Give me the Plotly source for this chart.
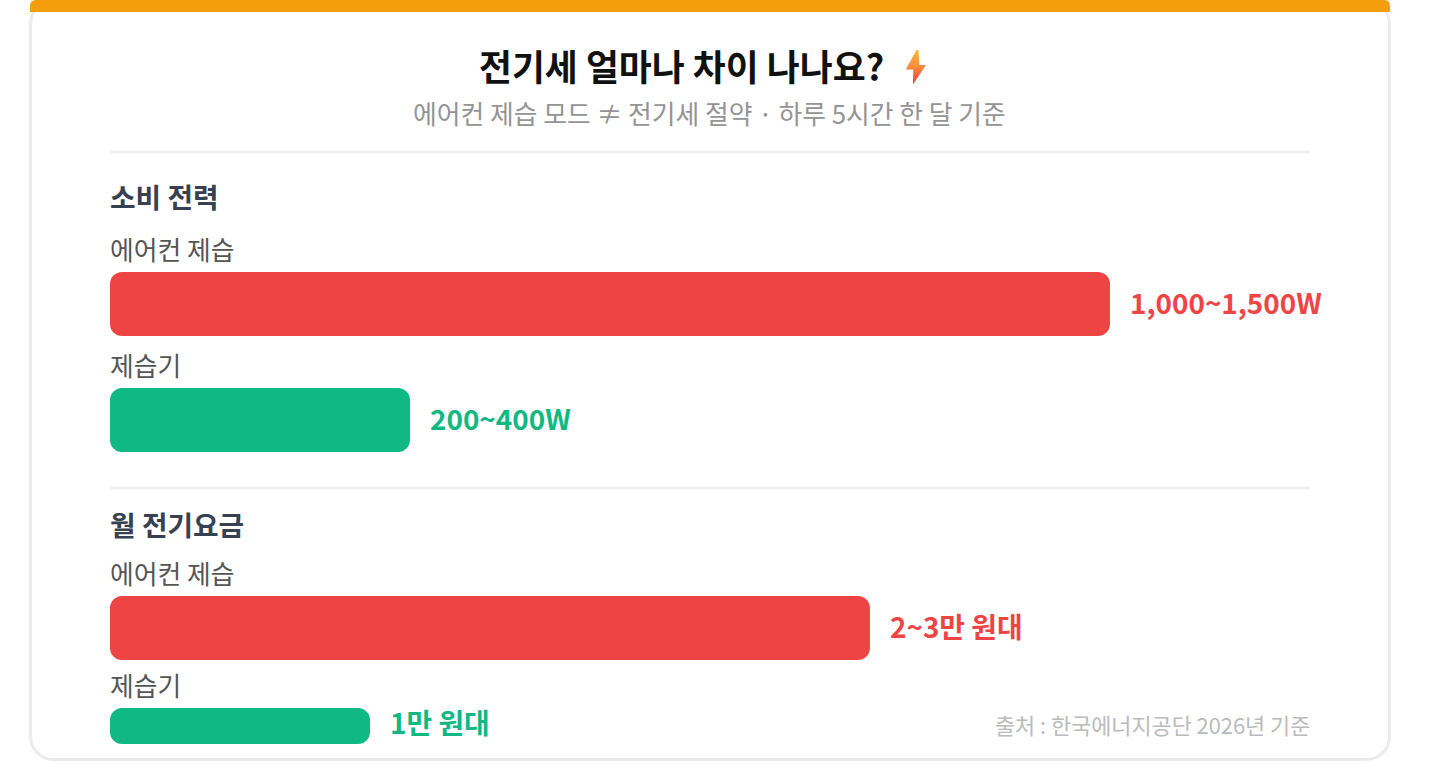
import base64
import plotly.graph_objects as go

# ---- data ----
groups = ["소비 전력", "소비 전력", "월 전기요금", "월 전기요금"]
categories = ["에어컨 제습", "제습기", "에어컨 제습", "제습기"]
bar_share = [83.33, 25.0, 63.33, 21.67]
value_labels = ["1,000~1,500W", "200~400W", "2~3만 원대", "1만 원대"]

TITLE = "전기세 얼마나 차이 나나요?"
SUBTITLE = "에어컨 제습 모드 ≠ 전기세 절약 · 하루 5시간 한 달 기준"
SOURCE = "출처 : 한국에너지공단 2026년 기준"

# ---- layout / style ----
W, H = 1440, 780
FONT = "Noto Sans CJK KR"
RED, GREEN, ORANGE = "#ef4444", "#10b981", "#f59e0b"
colors = [RED, GREEN, RED, GREEN]
bar_bands = [(272, 336), (388, 452), (596, 660), (708, 744)]
label_centers = [250, 365, 573, 685]
label_yshifts = [2, 2, 2, 4]
group_centers = {"소비 전력": 197, "월 전기요금": 525}
TRACK_L, TRACK_R = 110, 1310


def px(x):
    return x / W


def py(y):
    return 1 - y / H


def rounded_top_path(x0, y0, x1, y1, r):
    return (f"M {px(x0)} {py(y1)} L {px(x0)} {py(y0 + r)} "
            f"Q {px(x0)} {py(y0)} {px(x0 + r)} {py(y0)} "
            f"L {px(x1 - r)} {py(y0)} Q {px(x1)} {py(y0)} {px(x1)} {py(y0 + r)} "
            f"L {px(x1)} {py(y1)} Z")


def card_path(x0, y0, x1, y1, r):
    k = 0.5523 * r
    return (f"M {px(x0 + r)} {py(y0)} L {px(x1 - r)} {py(y0)} "
            f"C {px(x1 - r + k)} {py(y0)} {px(x1)} {py(y0 + r - k)} {px(x1)} {py(y0 + r)} "
            f"L {px(x1)} {py(y1 - r)} "
            f"C {px(x1)} {py(y1 - r + k)} {px(x1 - r + k)} {py(y1)} {px(x1 - r)} {py(y1)} "
            f"L {px(x0 + r)} {py(y1)} "
            f"C {px(x0 + r - k)} {py(y1)} {px(x0)} {py(y1 - r + k)} {px(x0)} {py(y1 - r)} "
            f"L {px(x0)} {py(y0 + r)} "
            f"C {px(x0)} {py(y0 + r - k)} {px(x0 + r - k)} {py(y0)} {px(x0 + r)} {py(y0)} Z")


fig = go.Figure()
unit = (TRACK_R - TRACK_L) / 100
x_range = [-TRACK_L / unit, (W - TRACK_L) / unit]

layout_axes = {}
annotations = []
for i, (cat, val, lab, col, band, ys) in enumerate(zip(categories, bar_share, value_labels, colors, bar_bands, label_yshifts)):
    axis = "y" if i == 0 else f"y{i + 1}"
    name = "yaxis" if i == 0 else f"yaxis{i + 1}"
    # An explicit base makes Plotly round both ends of the bar.
    fig.add_trace(go.Bar(x=[val], base=[0], y=[cat], orientation="h", yaxis=axis, xaxis="x",
                         width=1, marker=dict(color=col, line=dict(width=0)),
                         showlegend=False, name=lab, hovertemplate=f"{cat}: {lab}<extra></extra>"))
    layout_axes[name] = dict(domain=[py(band[1]), py(band[0])], type="category", visible=False,
                             anchor="x", range=[-0.5, 0.5], fixedrange=True)
    annotations.append(dict(x=val, y=cat, xref="x", yref=axis, xanchor="left", yanchor="middle",
                            xshift=18, yshift=ys, showarrow=False, text=lab,
                            font=dict(family=FONT, size=27.9, color=col, weight=700)))


def note(text, x, y, size, color, anchor="left", weight=400):
    annotations.append(dict(x=px(x), y=py(y), xref="paper", yref="paper", xanchor=anchor, yanchor="middle",
                            showarrow=False, text=text,
                            font=dict(family=FONT, size=size, color=color, weight=weight)))


note(TITLE, 681, 65, 35.8, "#111111", "center", 700)
note(SUBTITLE, 709.5, 112.6, 25.8, "#949494", "center")
for g, yc in group_centers.items():
    note(g, TRACK_L - 2, yc - 1, 27.8, "#374151", "left", 700)
for c, yc in zip(categories, label_centers):
    note(c, TRACK_L - 2, yc - 1, 25.8, "#555555")
note(SOURCE, TRACK_R + 2, 724, 21.85, "#bbbbbb", "right")

shapes = [
    dict(type="path", xref="paper", yref="paper", path=card_path(30.5, 1, 1389.5, 759.5, 23),
         line=dict(color="#ebebeb", width=3), fillcolor="#ffffff", layer="below"),
    dict(type="path", xref="paper", yref="paper", path=rounded_top_path(30, 0, 1390, 12, 6),
         line=dict(width=0), fillcolor=ORANGE, layer="below"),
]
for y in (152, 488):
    shapes.append(dict(type="line", xref="paper", yref="paper", x0=px(TRACK_L), x1=px(TRACK_R),
                       y0=py(y), y1=py(y), line=dict(color="#f0f0f0", width=3), layer="below"))

# gradient lightning icon beside the title
bolt_svg = (
    '<svg xmlns="http://www.w3.org/2000/svg" width="26" height="38" viewBox="0 0 26 38">'
    '<defs><linearGradient id="g" x1="0" y1="0" x2="0" y2="1">'
    '<stop offset="0" stop-color="#fdba3b"/><stop offset="0.45" stop-color="#fb8f3c"/>'
    '<stop offset="0.95" stop-color="#ee4040"/></linearGradient></defs>'
    '<polygon points="12.4,2 14.6,2 15.3,17 22,17 8.9,36.6 9.3,21.6 1.8,21.6" fill="url(#g)"/></svg>'
)
bolt_uri = "data:image/svg+xml;base64," + base64.b64encode(bolt_svg.encode()).decode()

fig.update_layout(
    width=W, height=H, margin=dict(l=0, r=0, t=0, b=0),
    paper_bgcolor="#ffffff", plot_bgcolor="rgba(0,0,0,0)",
    barcornerradius=12, barmode="overlay", showlegend=False,
    xaxis=dict(domain=[0, 1], range=x_range, visible=False, fixedrange=True),
    shapes=shapes, annotations=annotations,
    images=[dict(source=bolt_uri, xref="paper", yref="paper", x=px(904), y=py(48),
                 sizex=26 / W, sizey=38 / H, sizing="stretch", xanchor="left", yanchor="top", layer="above")],
    font=dict(family=FONT),
    **layout_axes,
)
fig.write_html("out.html", config={"displayModeBar": False},
               post_script="document.body.style.margin='0';document.body.style.overflow='hidden';")
